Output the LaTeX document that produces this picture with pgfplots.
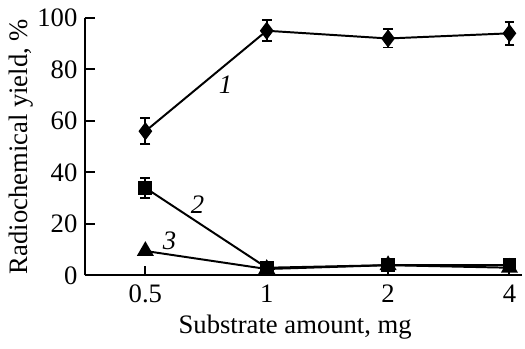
\documentclass[border=0pt]{standalone}
\usepackage{pgfplots}
\pgfplotsset{compat=1.18}
\usepackage{fontspec}
\setmainfont{Liberation Serif}
\begin{document}
\fontsize{13.5}{15}\selectfont
\begin{tikzpicture}
\begin{axis}[
  scale only axis, width=220.5bp, height=130bp,
  axis lines=left, axis line style={line width=1pt,-},
  xmin=-0.5, xmax=3.1, ymin=0, ymax=100,
  xtick={0,1,2,3}, xticklabels={0.5,1,2,4},
  ytick={0,20,40,60,80,100},
  tick align=inside, major tick length=5bp,
  tick style={line width=1pt,black},
  /pgf/number format/assume math mode=true,
  ticklabel style={font=\fontsize{13.5}{15}\selectfont},
  yticklabel style={xshift=1bp},
  xlabel={Substrate amount, mg},
  ylabel={Radiochemical yield, \%},
  label style={font=\fontsize{13.5}{15}\selectfont},
  xlabel style={xshift=-4bp,yshift=3bp},
  ylabel style={yshift=-7bp},
  clip=false,
]
\addplot+[black, line width=1pt, mark=diamond*, mark size=3.8pt, mark options={fill=black,solid},
  error bars/.cd, y dir=both, y explicit, error bar style={line width=1pt},
  error mark options={rotate=90, mark size=2.5pt, line width=1pt}]
  coordinates {(0,56) +- (0,5) (1,95) +- (0,4) (2,92) +- (0,3.5) (3,94) +- (0,4.5)};
\addplot+[black, line width=1pt, mark=square*, mark size=3pt, mark options={fill=black,solid},
  error bars/.cd, y dir=both, y explicit, error bar style={line width=1pt},
  error mark options={rotate=90, mark size=2.5pt, line width=1pt}]
  coordinates {(0,34) +- (0,4) (1,3) +- (0,1) (2,4) +- (0,1.5) (3,4) +- (0,1.5)};
\addplot+[black, line width=1pt, mark=triangle*, mark size=4pt, mark options={fill=black,solid}]
  coordinates {(0,9.5) (1,2.5) (2,4) (3,3)};
\node[font=\itshape\fontsize{13.5}{15}\selectfont] at (axis cs:0.66,74) {1};
\node[font=\itshape\fontsize{13.5}{15}\selectfont] at (axis cs:0.43,27.5) {2};
\node[font=\itshape\fontsize{13.5}{15}\selectfont] at (axis cs:0.2,13.5) {3};
\end{axis}
\end{tikzpicture}
\end{document}
